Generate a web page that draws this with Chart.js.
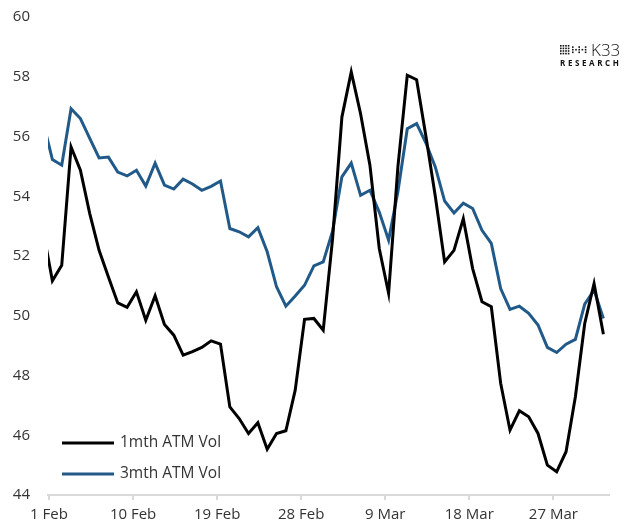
<!DOCTYPE html>
<html>
<head>
<meta charset="utf-8">
<script src="https://cdn.jsdelivr.net/npm/chart.js@4"></script>
<style>
  html, body { margin: 0; padding: 0; background: #fff; }
  #wrap { position: relative; width: 634px; height: 530px; }
</style>
</head>
<body>
<div id="wrap"><canvas id="c" width="634" height="530"></canvas></div>
<script>
// x tick labels, one every 9 days
const tickLabels = ['1 Feb', '10 Feb', '19 Feb', '28 Feb', '9 Mar', '18 Mar', '27 Mar'];
const tickStep = 9;

// daily closes, first value is the day before 1 Feb (cut at the left edge)
const firstDay = -1;
const oneMonthVol = [52.87, 51.17, 51.69, 55.65, 54.87, 53.42, 52.19, 51.3, 50.43, 50.28,
  50.8, 49.85, 50.67, 49.71, 49.35, 48.68, 48.8, 48.94, 49.16, 49.05,
  46.95, 46.56, 46.06, 46.42, 45.53, 46.06, 46.15, 47.51, 49.88, 49.91,
  49.52, 52.57, 56.65, 58.16, 56.76, 55.04, 52.25, 50.75, 55.0, 58.05,
  57.9, 56.0, 54.0, 51.8, 52.19, 53.25, 51.58, 50.47, 50.3, 47.74,
  46.17, 46.82, 46.62, 46.06, 45.0, 44.78, 45.45, 47.29, 49.74, 51.08, 49.38];
const threeMonthVol = [56.49, 55.23, 55.04, 56.93, 56.6, 55.94, 55.28, 55.31, 54.81, 54.68,
  54.87, 54.34, 55.11, 54.37, 54.24, 54.57, 54.41, 54.2, 54.33, 54.51,
  52.92, 52.81, 52.64, 52.95, 52.14, 50.97, 50.32, 50.66, 51.02, 51.67,
  51.8, 52.83, 54.65, 55.11, 54.03, 54.2, 53.47, 52.53, 54.16, 56.26,
  56.43, 55.78, 54.98, 53.84, 53.44, 53.77, 53.59, 52.86, 52.42, 50.91,
  50.21, 50.32, 50.08, 49.69, 48.94, 48.77, 49.05, 49.21, 50.39, 50.86, 49.91];

const FONT = 'Open Sans';
const TEXT = '#333';

function toPoints(arr) {
  return arr.map((v, k) => ({ x: firstDay + k, y: v }));
}

// legend drawn inside the plot, bottom left
const insideLegend = {
  id: 'insideLegend',
  afterDraw(chart) {
    const ctx = chart.ctx;
    const a = chart.chartArea;
    ctx.save();
    chart.data.datasets.forEach((ds, k) => {
      const y = a.bottom - 52 + k * 31;
      ctx.strokeStyle = ds.borderColor;
      ctx.lineWidth = 3;
      ctx.beginPath();
      ctx.moveTo(a.left + 14, y);
      ctx.lineTo(a.left + 66, y);
      ctx.stroke();
      ctx.fillStyle = TEXT;
      ctx.font = '15.5px "' + FONT + '"';
      ctx.textBaseline = 'middle';
      ctx.fillText(ds.label, a.left + 72, y);
    });

    // K33 Research mark, top right
    const lx = 560, ly = 45;
    ctx.fillStyle = '#111';
    for (let r = 0; r < 4; r++) {
      for (let c = 0; c < 4; c++) {
        ctx.fillRect(lx + c * 2.6, ly + r * 2.6, 1.6, 1.6);
      }
    }
    for (let c = 0; c < 5; c++) {
      const cx = lx + 12 + c * 3.2;
      ctx.fillRect(cx, ly + 3.9, 1.6, 1.6);
      if (c % 2 === 0) {
        ctx.fillRect(cx, ly + 1.3, 1.6, 1.6);
        ctx.fillRect(cx, ly + 6.5, 1.6, 1.6);
      }
    }
    ctx.font = '300 17px "' + FONT + '"';
    ctx.textBaseline = 'alphabetic';
    ctx.fillText('K33', 591, 56);
    ctx.font = 'bold 8px "' + FONT + '"';
    const word = 'RESEARCH';
    let wx = 560;
    for (const ch of word) {
      ctx.fillText(ch, wx, 66);
      wx += ctx.measureText(ch).width + 2.6;
    }
    ctx.restore();
  }
};

new Chart(document.getElementById('c').getContext('2d'), {
  type: 'line',
  data: {
    datasets: [
      {
        label: '1mth ATM Vol',
        data: toPoints(oneMonthVol),
        borderColor: '#000000',
        borderWidth: 3,
        pointRadius: 0,
        tension: 0,
        fill: false
      },
      {
        label: '3mth ATM Vol',
        data: toPoints(threeMonthVol),
        borderColor: '#215a88',
        borderWidth: 3,
        pointRadius: 0,
        tension: 0,
        fill: false
      }
    ]
  },
  options: {
    responsive: false,
    animation: false,
    layout: { padding: { top: 17, right: 25, left: 0, bottom: 0 } },
    plugins: {
      legend: { display: false },
      tooltip: { enabled: false }
    },
    scales: {
      x: {
        type: 'linear',
        min: -0.47,
        max: 59.6,
        afterBuildTicks: axis => {
          axis.ticks = tickLabels.map((_, j) => ({ value: -0.36 + j * tickStep }));
        },
        afterFit: s => { s.height = 35; },
        ticks: {
          autoSkip: false,
          maxRotation: 0,
          padding: 6,
          color: TEXT,
          font: { family: FONT, size: 15 },
          callback: (v, idx) => tickLabels[idx]
        },
        grid: { drawOnChartArea: false, drawTicks: true, tickLength: 5, color: '#d9d9d9', lineWidth: 2 },
        border: { color: '#d9d9d9', width: 2 }
      },
      y: {
        min: 44,
        max: 60,
        afterFit: s => { s.width = 48; },
        ticks: {
          stepSize: 2,
          padding: 0,
          color: TEXT,
          font: { family: FONT, size: 15 }
        },
        // invisible tick marks just to push the labels away from the plot
        grid: { drawOnChartArea: false, drawTicks: true, tickLength: 18, color: 'rgba(0,0,0,0)' },
        border: { display: false }
      }
    }
  },
  plugins: [insideLegend]
});
</script>
</body>
</html>
